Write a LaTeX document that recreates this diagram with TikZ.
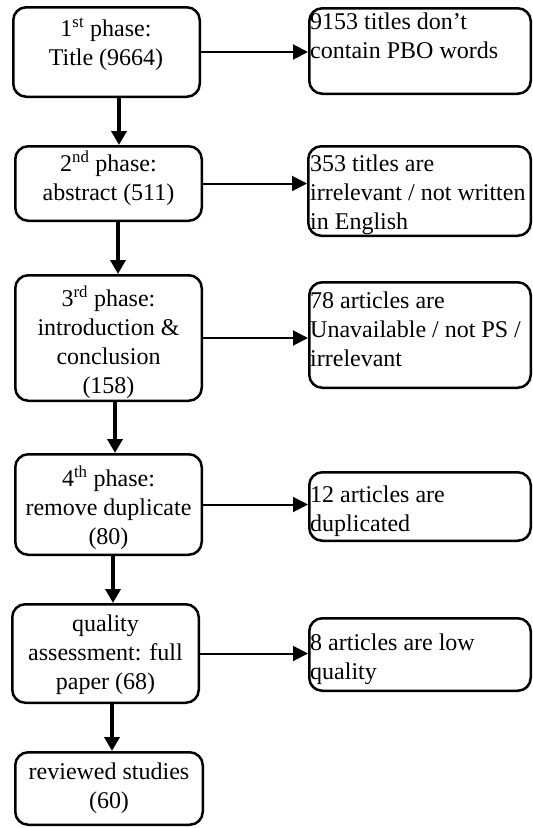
\documentclass[tikz,border=0pt]{standalone}
\usepackage{fontspec}
\setmainfont{Liberation Serif}
\usetikzlibrary{arrows.meta}
\tikzset{
  box/.style={draw, line width=2.5pt, rounded corners=13pt, inner sep=0pt},
  ctext/.style={align=center, inner sep=0pt, font=\fontsize{24}{29}\selectfont},
  ltext/.style={align=left, inner sep=0pt, anchor=north west, font=\fontsize{24}{29}\selectfont},
  harrow/.style={line width=2pt, -{Triangle[length=15pt,width=15pt]}},
  varrow/.style={line width=4pt, -{Triangle[length=14pt,width=15pt]}}
}
\begin{document}
\begin{tikzpicture}[x=1pt,y=-1pt]
\fill[white] (0,0) rectangle (533,828);
\useasboundingbox (0,0) rectangle (533,828);

% left boxes
\node[box, minimum width=186.5pt, minimum height=89.5pt] (B1) at (106.5,52) {};
\node[box, minimum width=186.5pt, minimum height=74.5pt] (B2) at (108.5,183.5) {};
\node[box, minimum width=186.5pt, minimum height=125.5pt] (B3) at (108.5,338) {};
\node[box, minimum width=186.5pt, minimum height=100.5pt] (B4) at (108.5,504.5) {};
\node[box, minimum width=186.5pt, minimum height=98.5pt] (B5) at (105.5,653.5) {};
\node[box, minimum width=187.5pt, minimum height=72.5pt] (B6) at (109,788.5) {};

% left texts
\node[ctext] (T1) at (106,44) {1\textsuperscript{st} phase:\\Title (9664)};
\node[ctext] (T2) at (108.5,178) {2\textsuperscript{nd} phase:\\abstract (511)};
\node[ctext] (T3) at (108.5,342) {3\textsuperscript{rd} phase:\\introduction \&\\conclusion\\(158)};
\node[ctext] (T4) at (108.5,508) {4\textsuperscript{th} phase:\\remove duplicate\\(80)};
\node[ctext] (T5) at (105.5,655) {quality\\assessment: full\\paper (68)};
\node[ctext] (T6) at (109,788.5) {reviewed studies\\(60)};

% right boxes
\node[box, minimum width=221.5pt, minimum height=85.5pt] (R1) at (420,51) {};
\node[box, minimum width=222.5pt, minimum height=89.5pt] (R2) at (419.5,191) {};
\node[box, minimum width=221.5pt, minimum height=105.5pt] (R3) at (420,335) {};
\node[box, minimum width=221.5pt, minimum height=68.5pt] (R4) at (420,506.5) {};
\node[box, minimum width=221.5pt, minimum height=72.5pt] (R5) at (420,654.5) {};

% right texts
\node[ltext] (S1) at (310,13) {9153 titles don’t\\contain PBO words};
\node[ltext] (S2) at (310,155) {353 titles are\\irrelevant / not written\\in English};
\node[ltext] (S3) at (310,291.5) {78 articles are\\Unavailable / not PS /\\irrelevant};
\node[ltext] (S4) at (310,485.5) {12 articles are\\duplicated};
\node[ltext] (S5) at (310,633.5) {8 articles are low\\quality};

% horizontal arrows
\draw[harrow] (B1.east) -- (B1.east -| R1.west);
\draw[harrow] (B2.east) -- (B2.east -| R2.west);
\draw[harrow] (B3.east) -- (B3.east -| R3.west);
\draw[harrow] (B4.east) -- (B4.east -| R4.west);
\draw[harrow] (B5.east) -- (B5.east -| R5.west);

% vertical arrows
\draw[varrow] ([xshift=12.5pt]B1.south) -- ([xshift=12.5pt]B1.south |- B2.north);
\draw[varrow] ([xshift=9.5pt]B2.south) -- ([xshift=9.5pt]B2.south |- B3.north);
\draw[varrow] ([xshift=6.5pt]B3.south) -- ([xshift=6.5pt]B3.south |- B4.north);
\draw[varrow] ([xshift=4.5pt]B4.south) -- ([xshift=4.5pt]B4.south |- B5.north);
\draw[varrow] ([xshift=6.5pt]B5.south) -- ([xshift=6.5pt]B5.south |- B6.north);
\end{tikzpicture}
\end{document}
